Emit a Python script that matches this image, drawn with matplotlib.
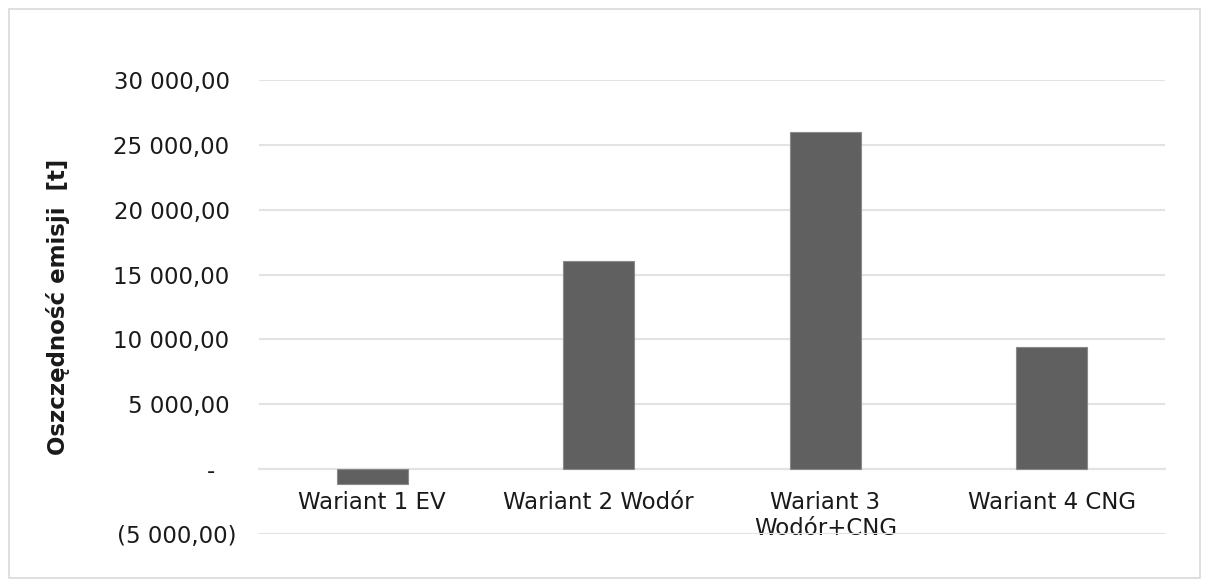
import matplotlib
matplotlib.use("Agg")
import matplotlib.pyplot as plt
from matplotlib.patches import Rectangle

# ── data ──────────────────────────────────────────────────────────────────────
categories = ["Wariant 1 EV", "Wariant 2 Wodór", "Wariant 3\nWodór+CNG", "Wariant 4 CNG"]
savings = [-1150, 16050, 26000, 9430]
y_ticks = [-5000, 0, 5000, 10000, 15000, 20000, 25000, 30000]
y_tick_labels = ["(5 000,00)", "-   ", "5 000,00 ", "10 000,00 ", "15 000,00 ",
                 "20 000,00 ", "25 000,00 ", "30 000,00 "]

plt.rcParams["font.family"] = ["DejaVu Sans"]
TXT = "#1a1a1a"
GRID = "#e3e3e3"

fig = plt.figure(figsize=(12.09, 5.87), dpi=100)
ax = fig.add_axes([259 / 1209, 53 / 587, 906 / 1209, 454 / 587])

x = range(len(categories))
ax.bar(x, savings, width=0.313, color="#606060", edgecolor="#8a8a8a",
       linewidth=0.8, zorder=3)

ax.set_xlim(-0.5, len(categories) - 0.5)
ax.set_ylim(-5000, 30000)
ax.set_yticks(y_ticks)
ax.set_yticklabels(y_tick_labels)
ax.yaxis.grid(True, color=GRID, linewidth=1.5, zorder=0)

ax.set_xticks(list(x))
ax.set_xticklabels(categories, linespacing=1.1)

for s in ("top", "left", "right"):
    ax.spines[s].set_visible(False)
ax.spines["bottom"].set_position(("data", 0))
ax.spines["bottom"].set_color(GRID)
ax.spines["bottom"].set_linewidth(1.5)

ax.tick_params(axis="both", length=0, labelsize=16.5, colors=TXT)
ax.tick_params(axis="x", pad=15.6)
ax.tick_params(axis="y", pad=16)

ax.set_ylabel("Oszczędność emisji  [t]", fontsize=16.5, fontweight="bold",
              color=TXT, labelpad=31.5)

# light chart border
fig.patches.append(Rectangle((9 / 1209, 9 / 587), 1191 / 1209, 569 / 587,
                             transform=fig.transFigure, fill=False,
                             edgecolor="#d9d9d9", linewidth=1.2))

fig.savefig("out.png", dpi=100)
